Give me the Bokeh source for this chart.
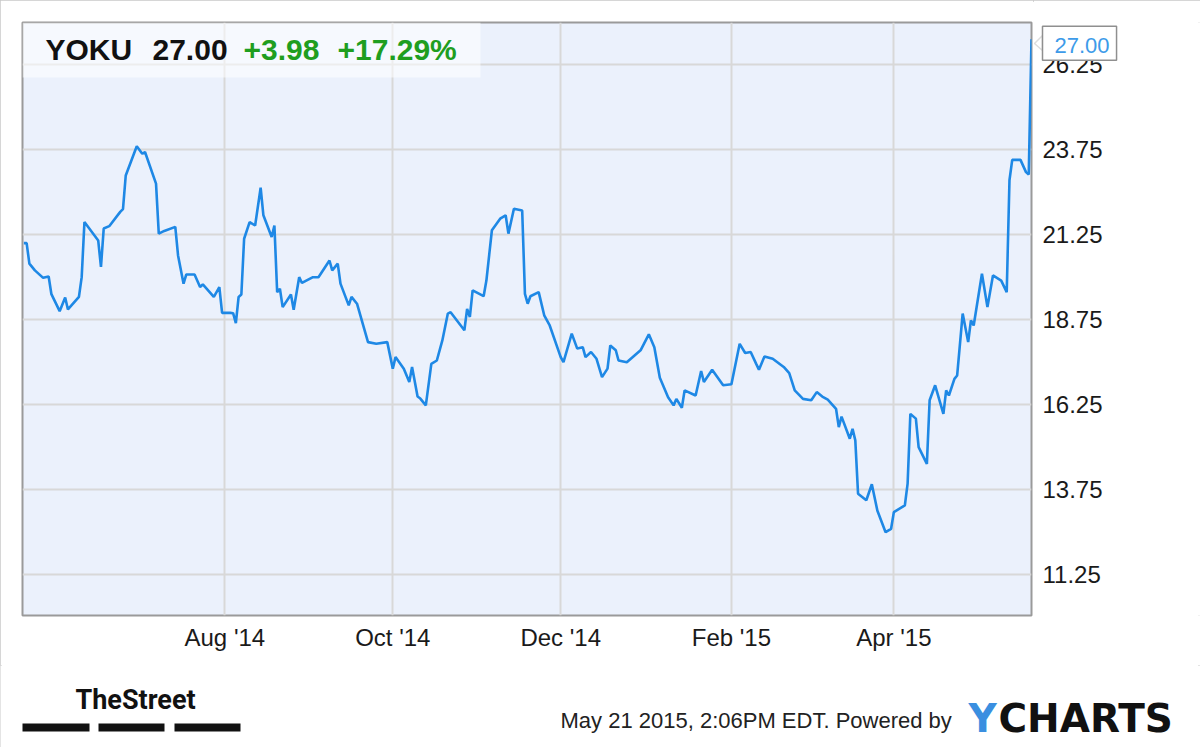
import pandas as pd
from bokeh.plotting import figure
from bokeh.layouts import column, row
from bokeh.models import (Range1d, FixedTicker, DatetimeTickFormatter, Label,
                          BoxAnnotation, PolyAnnotation)
from bokeh.embed import file_html
from bokeh.resources import INLINE

# ---------------- data ----------------
dates = [
    "2014-05-20", "2014-05-21", "2014-05-22", "2014-05-24", "2014-05-27", "2014-05-29", "2014-05-30",
    "2014-06-02", "2014-06-04", "2014-06-05", "2014-06-09", "2014-06-10", "2014-06-11", "2014-06-16",
    "2014-06-17", "2014-06-18", "2014-06-20", "2014-06-24", "2014-06-25", "2014-06-26", "2014-06-30",
    "2014-07-02", "2014-07-03", "2014-07-07", "2014-07-08", "2014-07-10", "2014-07-14", "2014-07-15",
    "2014-07-17", "2014-07-18", "2014-07-21", "2014-07-23", "2014-07-24", "2014-07-28", "2014-07-30",
    "2014-07-31",
    "2014-08-03", "2014-08-04", "2014-08-05", "2014-08-06", "2014-08-07", "2014-08-08", "2014-08-10",
    "2014-08-12", "2014-08-14", "2014-08-15", "2014-08-18", "2014-08-19", "2014-08-20", "2014-08-21",
    "2014-08-22", "2014-08-25", "2014-08-26", "2014-08-28", "2014-08-29",
    "2014-09-02", "2014-09-04", "2014-09-08", "2014-09-09", "2014-09-11", "2014-09-12", "2014-09-15",
    "2014-09-16", "2014-09-18", "2014-09-22", "2014-09-25", "2014-09-29",
    "2014-10-01", "2014-10-02", "2014-10-05", "2014-10-07", "2014-10-08", "2014-10-10", "2014-10-11",
    "2014-10-13", "2014-10-15", "2014-10-17", "2014-10-19", "2014-10-21", "2014-10-22", "2014-10-27",
    "2014-10-28", "2014-10-29", "2014-10-30",
    "2014-11-03", "2014-11-04", "2014-11-06", "2014-11-09", "2014-11-11", "2014-11-12", "2014-11-14",
    "2014-11-17", "2014-11-18", "2014-11-19", "2014-11-20", "2014-11-23", "2014-11-25", "2014-11-27",
    "2014-12-01", "2014-12-02", "2014-12-05", "2014-12-07", "2014-12-09", "2014-12-10", "2014-12-12",
    "2014-12-14", "2014-12-16", "2014-12-18", "2014-12-19", "2014-12-21", "2014-12-22", "2014-12-25",
    "2014-12-30",
    "2015-01-02", "2015-01-04", "2015-01-06", "2015-01-09", "2015-01-11", "2015-01-12", "2015-01-14",
    "2015-01-15", "2015-01-19", "2015-01-21", "2015-01-22", "2015-01-25", "2015-01-29",
    "2015-02-01", "2015-02-04", "2015-02-06", "2015-02-08", "2015-02-10", "2015-02-11", "2015-02-13",
    "2015-02-16", "2015-02-20", "2015-02-22", "2015-02-24", "2015-02-27",
    "2015-03-02", "2015-03-04", "2015-03-06", "2015-03-08", "2015-03-11", "2015-03-12", "2015-03-13",
    "2015-03-16", "2015-03-17", "2015-03-18", "2015-03-19", "2015-03-22", "2015-03-24", "2015-03-26",
    "2015-03-29", "2015-03-31",
    "2015-04-01", "2015-04-05", "2015-04-06", "2015-04-07", "2015-04-09", "2015-04-10", "2015-04-13",
    "2015-04-14", "2015-04-16", "2015-04-19", "2015-04-20", "2015-04-21", "2015-04-23", "2015-04-24",
    "2015-04-26", "2015-04-28", "2015-04-29", "2015-04-30",
    "2015-05-03", "2015-05-05", "2015-05-07", "2015-05-10", "2015-05-12", "2015-05-13", "2015-05-14",
    "2015-05-17", "2015-05-19", "2015-05-20", "2015-05-21",
]
prices = [
    21.0, 21.0, 20.4, 20.2, 19.98, 20.02, 19.5,
    19.0, 19.4, 19.05, 19.42, 20.0, 21.62, 21.08, 20.3, 21.43, 21.5, 21.92, 22.0, 22.99, 23.85,
    23.63, 23.68, 22.75, 21.28, 21.36, 21.48, 20.64, 19.81, 20.08, 20.08, 19.71, 19.79, 19.42, 19.71, 18.95,
    18.95, 18.94, 18.65, 19.42, 19.49, 21.13, 21.62, 21.52, 22.63, 21.82, 21.18, 21.52, 19.56, 19.66,
    19.12, 19.49, 19.04, 20.0, 19.83,
    20.0, 20.0, 20.49, 20.2, 20.4, 19.81, 19.17, 19.42, 19.22, 18.09, 18.04, 18.09,
    17.31, 17.65, 17.31, 16.92, 17.36, 16.49, 16.43, 16.23, 17.45, 17.55, 18.14, 18.93, 18.97, 18.44,
    19.07, 18.83, 19.61,
    19.44, 19.9, 21.38, 21.72, 21.82, 21.28, 22.01, 21.96, 19.51, 19.22, 19.44, 19.56, 18.88, 18.58,
    17.65, 17.5, 18.34, 17.9, 17.94, 17.65, 17.8, 17.6, 17.06, 17.31, 17.99, 17.85, 17.55, 17.5, 17.85,
    18.32, 17.94, 17.04, 16.47, 16.23, 16.42, 16.16, 16.67, 16.52, 17.24, 16.92, 17.28, 16.82,
    16.85, 18.04, 17.77, 17.8, 17.45, 17.28, 17.67, 17.6, 17.36, 17.18, 16.67, 16.42,
    16.38, 16.62, 16.49, 16.4, 16.13, 15.59, 15.9, 15.25, 15.54, 15.2, 13.63, 13.44, 13.91, 13.14,
    12.5, 12.6,
    13.09, 13.29, 13.93, 15.98, 15.84, 15.0, 14.51, 16.38, 16.82, 15.98, 16.67, 16.52, 17.01, 17.11,
    18.93, 18.09, 18.73, 18.58,
    20.1, 19.12, 20.05, 19.9, 19.56, 22.85, 23.45, 23.45, 23.09, 23.02, 27.0,
]
assert len(dates) == len(prices)

symbol = "YOKU"
last_price = "27.00"
change_abs = "+3.98"
change_pct = "+17.29%"

y_ticks = [11.25, 13.75, 16.25, 18.75, 21.25, 23.75, 26.25]
x_tick_dates = ["2014-08-01", "2014-10-01", "2014-12-01", "2015-02-01", "2015-04-01"]
x_tick_labels = ["Aug '14", "Oct '14", "Dec '14", "Feb '15", "Apr '15"]
footer_text = "May 21 2015, 2:06PM EDT. Powered by"
brand_left = "TheStreet"
brand_right_a = "Y"
brand_right_b = "CHARTS"

# ---------------- main chart ----------------
FONT = "Liberation Sans"
dt = pd.to_datetime(dates)
x_start = pd.Timestamp("2014-05-19 12:00")
x_end = pd.Timestamp("2015-05-21")
y_rng = Range1d(10.05, 27.49)

p = figure(x_axis_type="datetime", y_axis_location=None,
           frame_width=1009, frame_height=593,
           min_border_left=22, min_border_top=22, min_border_right=2, min_border_bottom=50,
           x_range=Range1d(x_start, x_end), y_range=y_rng,
           output_backend="svg", toolbar_location=None,
           background_fill_color="#ebf1fc", border_fill_color="white")

p.outline_line_color = "#9a9a9a"
p.outline_line_width = 2

tick_ms = [int(pd.Timestamp(d).value // 10**6) for d in x_tick_dates]
xt = FixedTicker(ticks=tick_ms)
p.xaxis.ticker = xt
p.xgrid.ticker = xt
p.xaxis.formatter = DatetimeTickFormatter(months="%b '%y", days="%b '%y", years="%b '%y")
p.xaxis.major_label_overrides = {t: lab for t, lab in zip(tick_ms, x_tick_labels)}
p.xaxis.axis_line_color = None
p.xaxis.major_tick_line_color = None
p.xaxis.minor_tick_line_color = None
p.xaxis.major_label_text_font = FONT
p.xaxis.major_label_text_font_size = "24px"
p.xaxis.major_label_text_color = "#1a1a1a"
p.xaxis.major_label_standoff = 2

p.ygrid.ticker = FixedTicker(ticks=y_ticks)
for g in (p.xgrid, p.ygrid):
    g.grid_line_color = "#d8d8d8"
    g.grid_line_width = 2

p.line(x=dt, y=prices, line_color="#1e88e5", line_width=2.6)

# header box
p.add_layout(BoxAnnotation(left=0, right=458, bottom=538, top=593,
                           left_units="screen", right_units="screen",
                           bottom_units="screen", top_units="screen",
                           fill_color="white", fill_alpha=0.55, line_color=None))


def lab(fig, text, x, y, size, color, style="normal", font=FONT, y_units="screen"):
    fig.add_layout(Label(x=x, y=y, x_units="screen", y_units=y_units, text=text,
                         text_font=font, text_font_size=size, text_color=color,
                         text_font_style=style, text_baseline="middle", text_align="left"))


lab(p, symbol, 23, 566, "30px", "#111111", "bold")
lab(p, last_price, 130, 566, "30px", "#111111", "bold")
lab(p, change_abs, 221, 566, "30px", "#1f9e1f", "bold")
lab(p, change_pct, 315, 566, "30px", "#1f9e1f", "bold")

# ---------------- right value scale + last price callout ----------------
side = figure(x_axis_location=None, y_axis_location=None,
              frame_width=167, frame_height=593,
              min_border_left=0, min_border_right=0, min_border_top=22, min_border_bottom=50,
              x_range=Range1d(0, 1), y_range=y_rng,
              output_backend="svg", toolbar_location=None,
              background_fill_color="white", border_fill_color="white")
side.outline_line_color = None
side.xgrid.visible = False
side.ygrid.visible = False

for t in y_ticks:
    lab(side, f"{t:.2f}", 9, t, "24px", "#1a1a1a", y_units="data")

last_val = prices[-1]
side.add_layout(PolyAnnotation(xs=[1, 9, 9], ys=[572, 580, 565],
                               xs_units="screen", ys_units="screen",
                               fill_color="white", fill_alpha=1.0,
                               line_color="#8f8f8f", line_width=1.5))
side.add_layout(Label(x=9, y=last_val, x_units="screen", y_units="data", y_offset=-4,
                      text=last_price,
                      text_font=FONT, text_font_size="22px", text_color="#3d9be9",
                      text_baseline="middle", text_align="left",
                      background_fill_color="white", background_fill_alpha=1.0,
                      border_line_color="#8f8f8f", border_line_width=1.5,
                      padding=(12, 7, 12, 7)))

# ---------------- footer ----------------
foot = figure(x_axis_location=None, y_axis_location=None,
              frame_width=1200, frame_height=82,
              min_border_left=0, min_border_right=0, min_border_top=0, min_border_bottom=0,
              x_range=Range1d(0, 1200), y_range=Range1d(0, 82),
              output_backend="svg", toolbar_location=None,
              background_fill_color="white", border_fill_color="white")
foot.outline_line_color = None
foot.xgrid.visible = False
foot.ygrid.visible = False

lab(foot, brand_left, 75, 48, "27px", "#111111", "bold", font="Roboto")
for l, r in [(22, 89), (98, 164), (174, 240)]:
    foot.add_layout(BoxAnnotation(left=l, right=r, bottom=16, top=24,
                                  left_units="screen", right_units="screen",
                                  bottom_units="screen", top_units="screen",
                                  fill_color="#111111", fill_alpha=1.0, line_color=None))
lab(foot, footer_text, 560, 27, "22px", "#222222")
lab(foot, brand_right_a, 968, 29, "39px", "#3a8fe0", "bold", font="DejaVu Sans")
lab(foot, brand_right_b, 998, 29, "39px", "#111111", "bold", font="DejaVu Sans")

layout = column(row(p, side, spacing=0), foot, spacing=0,
                styles={"outline": "2px solid #c8c8c8", "outline-offset": "-2px"})

open("out.html", "w").write(file_html(layout, INLINE))
